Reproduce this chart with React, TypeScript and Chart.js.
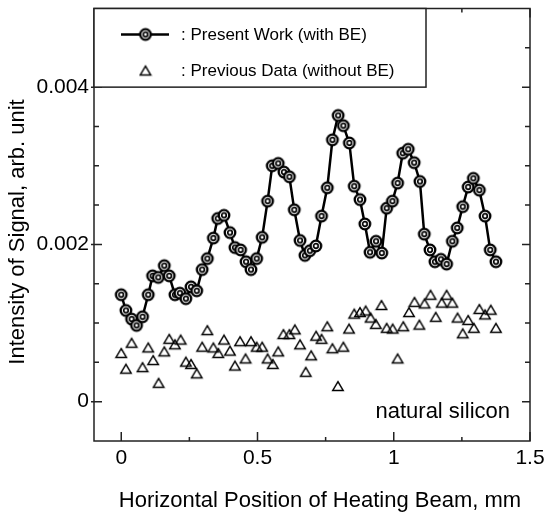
import React, { useEffect, useRef } from 'react';
import { Chart, registerables } from 'chart.js';

Chart.register(...registerables);

// ---- data ----
const presentX = [0, 0.017, 0.038, 0.056, 0.078, 0.099, 0.115, 0.136, 0.158, 0.176, 0.197, 0.215, 0.237, 0.256, 0.277, 0.297, 0.316, 0.338, 0.354, 0.377, 0.399, 0.417, 0.438, 0.458, 0.476, 0.497, 0.517, 0.537, 0.554, 0.576, 0.597, 0.617, 0.635, 0.656, 0.674, 0.692, 0.714, 0.735, 0.756, 0.775, 0.796, 0.815, 0.837, 0.855, 0.876, 0.894, 0.913, 0.935, 0.956, 0.974, 0.995, 1.014, 1.033, 1.053, 1.075, 1.096, 1.112, 1.133, 1.151, 1.173, 1.194, 1.215, 1.233, 1.253, 1.273, 1.292, 1.314, 1.335, 1.354, 1.375];
const presentY = [0.00136, 0.00116, 0.00105, 0.00097, 0.00108, 0.00136, 0.0016, 0.00158, 0.00173, 0.0016, 0.00136, 0.00138, 0.00131, 0.00146, 0.00141, 0.00168, 0.00182, 0.00208, 0.00233, 0.00237, 0.00215, 0.00196, 0.00193, 0.00178, 0.00168, 0.00182, 0.00209, 0.00255, 0.003, 0.00303, 0.00292, 0.00286, 0.00244, 0.00205, 0.00186, 0.00192, 0.00198, 0.00236, 0.00272, 0.00333, 0.00364, 0.00351, 0.00329, 0.00274, 0.00257, 0.00226, 0.0019, 0.00204, 0.00189, 0.00246, 0.00255, 0.00278, 0.00316, 0.00321, 0.00304, 0.0028, 0.00213, 0.00193, 0.00178, 0.00181, 0.00175, 0.00204, 0.00221, 0.00248, 0.00273, 0.00284, 0.00269, 0.00236, 0.00193, 0.00178];

const previousX = [0, 0.017, 0.038, 0.078, 0.099, 0.117, 0.137, 0.158, 0.176, 0.197, 0.218, 0.237, 0.256, 0.277, 0.297, 0.316, 0.338, 0.356, 0.377, 0.399, 0.417, 0.436, 0.456, 0.476, 0.497, 0.517, 0.537, 0.556, 0.576, 0.595, 0.617, 0.637, 0.656, 0.677, 0.697, 0.715, 0.735, 0.756, 0.775, 0.795, 0.815, 0.836, 0.855, 0.876, 0.897, 0.915, 0.934, 0.955, 0.974, 0.996, 1.014, 1.035, 1.056, 1.076, 1.094, 1.113, 1.135, 1.154, 1.176, 1.194, 1.215, 1.234, 1.253, 1.273, 1.294, 1.314, 1.335, 1.356, 1.375];
const previousY = [0.00062, 0.00042, 0.00075, 0.00044, 0.00069, 0.00053, 0.00024, 0.00064, 0.0008, 0.00073, 0.00079, 0.00051, 0.00048, 0.00036, 0.0007, 0.00091, 0.00069, 0.00062, 0.00079, 0.00065, 0.00046, 0.00077, 0.00055, 0.00077, 0.0007, 0.0007, 0.00055, 0.00048, 0.00064, 0.00086, 0.00086, 0.00092, 0.00073, 0.00038, 0.00059, 0.00084, 0.0008, 0.00096, 0.00068, 0.0002, 0.0007, 0.00093, 0.00112, 0.00114, 0.00116, 0.00107, 0.00099, 0.00123, 0.00094, 0.00093, 0.00055, 0.00096, 0.00114, 0.00127, 0.00098, 0.00125, 0.00136, 0.00108, 0.00126, 0.00136, 0.00126, 0.00107, 0.00087, 0.00104, 0.00094, 0.00118, 0.00111, 0.00117, 0.00094];

const xMajorTicks = [0, 0.5, 1, 1.5];
const xMinorTicks = [0.25, 0.75, 1.25];
const yMajorTicks = [0, 0.002, 0.004];
const yMinorTicks = [0.0005, 0.001, 0.0015, 0.0025, 0.003, 0.0035, 0.0045];

const seriesLabels = [': Present Work (with BE)', ': Previous Data (without BE)'];
const xTitle = 'Horizontal Position of Heating Beam, mm';
const yTitle = 'Intensity of Signal, arb. unit';
const sampleNote = 'natural silicon';

const FONT = '"Liberation Sans", Arial, Helvetica, sans-serif';

function makeCircleMarker(): HTMLCanvasElement {
  const c = document.createElement('canvas');
  c.width = 16;
  c.height = 16;
  const g = c.getContext('2d')!;
  g.beginPath();
  g.arc(8, 8, 5.3, 0, Math.PI * 2);
  g.fillStyle = '#fff';
  g.fill();
  g.lineWidth = 2.3;
  g.strokeStyle = '#000';
  g.stroke();
  g.beginPath();
  g.arc(8, 8, 2.3, 0, Math.PI * 2);
  g.lineWidth = 1.7;
  g.stroke();
  return c;
}

function makeTriangleMarker(): HTMLCanvasElement {
  const c = document.createElement('canvas');
  c.width = 14;
  c.height = 14;
  const g = c.getContext('2d')!;
  g.beginPath();
  g.moveTo(7, 2.6);
  g.lineTo(12.2, 11.4);
  g.lineTo(1.8, 11.4);
  g.closePath();
  g.lineWidth = 1.5;
  g.strokeStyle = '#000';
  g.lineJoin = 'miter';
  g.stroke();
  return c;
}

const noPad = (s: any) => {
  s.paddingTop = 0;
  s.paddingBottom = 0;
  s.paddingLeft = 0;
  s.paddingRight = 0;
};

export default function App() {
  const ref = useRef<HTMLCanvasElement | null>(null);

  useEffect(() => {
    if (!ref.current) return;
    const circle = makeCircleMarker();
    const tri = makeTriangleMarker();

    const decor = {
      id: 'decor',
      afterDraw(chart: any) {
        const { ctx, chartArea: a, scales } = chart;
        const xs = scales.x;
        const ys = scales.y;
        ctx.save();
        ctx.strokeStyle = '#222';
        ctx.lineWidth = 1.5;
        const drawX = (v: number, len: number) => {
          const px = xs.getPixelForValue(v);
          ctx.beginPath();
          ctx.moveTo(px, a.bottom);
          ctx.lineTo(px, a.bottom - len);
          ctx.moveTo(px, a.top);
          ctx.lineTo(px, a.top + len);
          ctx.stroke();
        };
        const drawY = (v: number, len: number, out: number) => {
          const py = ys.getPixelForValue(v);
          ctx.beginPath();
          ctx.moveTo(a.left - out, py);
          ctx.lineTo(a.left + len, py);
          ctx.moveTo(a.right, py);
          ctx.lineTo(a.right - len, py);
          ctx.stroke();
        };
        xMajorTicks.forEach((v) => drawX(v, 9));
        xMinorTicks.forEach((v) => drawX(v, 4));
        yMajorTicks.forEach((v) => drawY(v, 8, 3));
        yMinorTicks.forEach((v) => drawY(v, 5, 0));
        ctx.strokeRect(a.left, a.top, a.right - a.left, a.bottom - a.top);

        // legend box
        const lx = a.left;
        const ly = a.top;
        const lw = 426 - a.left;
        const lh = ys.getPixelForValue(0.004) - a.top;
        ctx.fillStyle = '#fff';
        ctx.fillRect(lx, ly, lw, lh);
        ctx.strokeRect(lx, ly, lw, lh);
        const row1 = ly + 26;
        const row2 = ly + 62;
        ctx.beginPath();
        ctx.lineWidth = 2.5;
        ctx.strokeStyle = '#000';
        ctx.moveTo(lx + 27, row1);
        ctx.lineTo(lx + 75, row1);
        ctx.stroke();
        ctx.drawImage(circle, lx + 51.5 - 8, row1 - 8);
        ctx.drawImage(tri, lx + 51.5 - 7, row2 - 7);
        ctx.fillStyle = '#000';
        ctx.font = `17px ${FONT}`;
        ctx.textAlign = 'left';
        ctx.textBaseline = 'middle';
        ctx.fillText(seriesLabels[0], lx + 87, row1 + 1);
        ctx.fillText(seriesLabels[1], lx + 87, row2 + 1);

        // note
        ctx.font = `22px ${FONT}`;
        ctx.textAlign = 'right';
        ctx.textBaseline = 'alphabetic';
        ctx.fillText(sampleNote, 510, 418);

        // axis titles
        ctx.textAlign = 'center';
        ctx.fillText(xTitle, 320, 507);
        ctx.save();
        ctx.translate(24, 232);
        ctx.rotate(-Math.PI / 2);
        ctx.fillText(yTitle, 0, 0);
        ctx.restore();
        ctx.restore();
      },
    };

    const chart = new Chart(ref.current, {
      type: 'scatter',
      data: {
        datasets: [
          {
            label: seriesLabels[0],
            data: presentX.map((x, i) => ({ x, y: presentY[i] })),
            showLine: true,
            borderColor: '#000',
            borderWidth: 2.5,
            tension: 0,
            pointStyle: circle as any,
            pointRadius: 6,
            pointHoverRadius: 6,
          },
          {
            label: seriesLabels[1],
            data: previousX.map((x, i) => ({ x, y: previousY[i] })),
            showLine: false,
            pointStyle: tri as any,
            pointRadius: 6,
            pointHoverRadius: 6,
          },
        ],
      },
      options: {
        animation: false,
        responsive: false,
        devicePixelRatio: 1,
        events: [],
        layout: { padding: { top: 6, right: 14, left: 0, bottom: 0 } },
        plugins: { legend: { display: false }, tooltip: { enabled: false }, title: { display: false } },
        scales: {
          x: {
            type: 'linear',
            min: -0.1,
            max: 1.5,
            grid: { display: false, drawTicks: false },
            border: { display: false },
            ticks: {
              color: '#000',
              font: { size: 21, family: FONT },
              padding: 5,
              maxRotation: 0,
              callback: (v: any) => String(v),
            },
            afterBuildTicks: (s: any) => {
              s.ticks = xMajorTicks.map((v) => ({ value: v }));
            },
            afterFit: (s: any) => {
              s.height = 75;
              noPad(s);
            },
          },
          y: {
            type: 'linear',
            min: -0.0005,
            max: 0.005,
            grid: { display: false, drawTicks: false },
            border: { display: false },
            ticks: {
              color: '#000',
              font: { size: 21, family: FONT },
              padding: 5,
              callback: (v: any) => String(v),
            },
            afterBuildTicks: (s: any) => {
              s.ticks = yMajorTicks.map((v) => ({ value: v }));
            },
            afterFit: (s: any) => {
              s.width = 94;
              noPad(s);
            },
          },
        },
      },
      plugins: [decor],
    });
    return () => chart.destroy();
  }, []);

  return (
    <div style={{ position: 'fixed', left: 0, top: 0, width: 544, height: 516, background: '#fff' }}>
      <canvas ref={ref} width={544} height={516} style={{ width: 544, height: 516 }} />
    </div>
  );
}
